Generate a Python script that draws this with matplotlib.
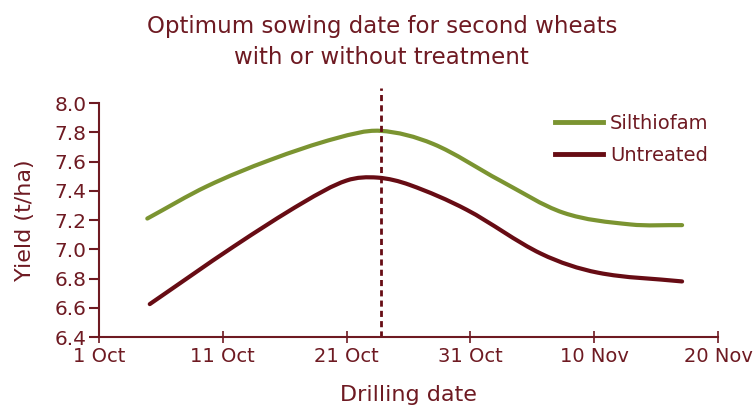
import matplotlib
matplotlib.use("Agg")
import matplotlib.pyplot as plt
from matplotlib.path import Path
from matplotlib.patches import PathPatch
from matplotlib.lines import Line2D

# days after 1 Oct
silthiofam_days = [3.9, 8.7, 13.8, 19.2, 22.7, 27.0, 32.4, 37.5, 42.9, 47.1]
silthiofam_yield = [7.21, 7.43, 7.61, 7.76, 7.81, 7.72, 7.47, 7.25, 7.17, 7.165]

untreated_days = [4.1, 10.9, 16.5, 20.0, 22.5, 25.1, 29.7, 35.7, 40.3, 47.1]
untreated_yield = [6.625, 7.02, 7.32, 7.47, 7.49, 7.44, 7.27, 6.97, 6.84, 6.78]

optimum_day = 22.8

tick_days = [0, 10, 20, 30, 40, 50]
tick_labels = ["1 Oct", "11 Oct", "21 Oct", "31 Oct", "10 Nov", "20 Nov"]
y_ticks = [6.4, 6.6, 6.8, 7.0, 7.2, 7.4, 7.6, 7.8, 8.0]

MAROON = "#6e1a22"
LINE_RED = "#670c14"
GREEN = "#7b9431"


def smooth_path(xs, ys):
    # excel-style smoothed line: cubic bezier segments through the points
    n = len(xs)
    m = []
    for i in range(n):
        a = max(i - 1, 0)
        b = min(i + 1, n - 1)
        m.append((ys[b] - ys[a]) / (xs[b] - xs[a]))
    verts = [(xs[0], ys[0])]
    codes = [Path.MOVETO]
    for i in range(n - 1):
        h = (xs[i + 1] - xs[i]) / 3.0
        verts += [(xs[i] + h, ys[i] + m[i] * h),
                  (xs[i + 1] - h, ys[i + 1] - m[i + 1] * h),
                  (xs[i + 1], ys[i + 1])]
        codes += [Path.CURVE4] * 3
    return Path(verts, codes)


plt.rcParams["font.family"] = ["DejaVu Sans"]

fig = plt.figure(figsize=(7.53, 4.08), dpi=100)
ax = fig.add_axes([0.1315, 0.174, 0.822, 0.5735])

for xs, ys, c in [(silthiofam_days, silthiofam_yield, GREEN),
                  (untreated_days, untreated_yield, LINE_RED)]:
    ax.add_patch(PathPatch(smooth_path(xs, ys), facecolor="none", edgecolor=c,
                           lw=3, capstyle="round"))

ax.plot([optimum_day, optimum_day], [6.4, 8.1], color=LINE_RED, lw=2,
        linestyle=(0, (2.2, 1.5)), clip_on=False)

ax.set_xlim(0, 50)
ax.set_ylim(6.4, 8.0)
ax.set_xticks(tick_days)
ax.set_xticklabels(tick_labels)
ax.set_yticks(y_ticks)
ax.set_yticklabels(["%.1f" % v for v in y_ticks])

for s in ["top", "right"]:
    ax.spines[s].set_visible(False)
for s in ["left", "bottom"]:
    ax.spines[s].set_color(MAROON)
    ax.spines[s].set_linewidth(1.5)

ax.tick_params(axis="y", direction="out", length=7, width=1.5, color=MAROON,
               labelcolor=MAROON, labelsize=14.5, pad=2)
ax.tick_params(axis="x", direction="inout", length=8, width=1.2, color=MAROON,
               labelcolor=MAROON, labelsize=14, pad=3)

ax.set_xlabel("Drilling date", color=MAROON, fontsize=16, labelpad=14)
ax.set_ylabel("Yield (t/ha)", color=MAROON, fontsize=16, labelpad=14)

fig.text(0.507, 0.935, "Optimum sowing date for second wheats", ha="center", va="center",
         color=MAROON, fontsize=16.5)
fig.text(0.507, 0.86, "with or without treatment", ha="center", va="center",
         color=MAROON, fontsize=16.5)

handles = [Line2D([], [], color=GREEN, lw=3.5), Line2D([], [], color=LINE_RED, lw=3.5)]
leg = ax.legend(handles, ["Silthiofam", "Untreated"], loc="upper left",
                bbox_to_anchor=(0.708, 1.03), frameon=False, fontsize=14,
                handlelength=2.5, handletextpad=0.35, labelspacing=0.7)
for t in leg.get_texts():
    t.set_color(MAROON)

fig.savefig("out.png", dpi=100)
